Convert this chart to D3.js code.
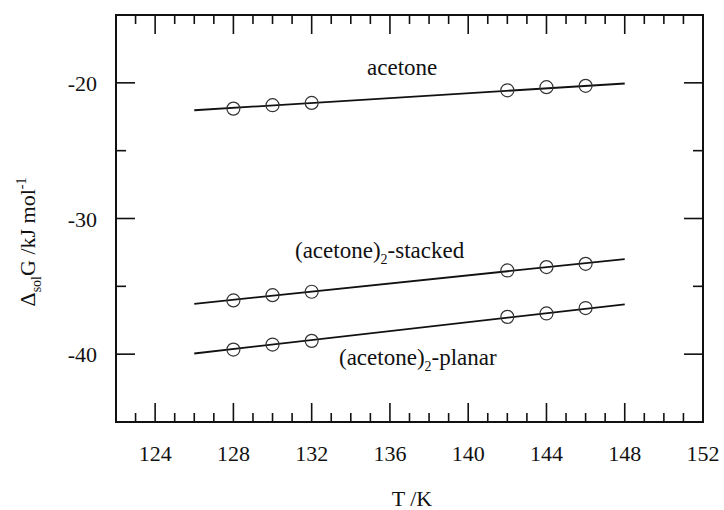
<!DOCTYPE html>
<html>
<head>
<meta charset="utf-8">
<script src="https://cdn.jsdelivr.net/npm/d3@7"></script>
<style>
  html, body { margin: 0; padding: 0; background: #fff; }
</style>
</head>
<body>
<svg id="chart" width="724" height="510"></svg>
<script>
// Temperatures (K) of the computed points
const temps = [128, 130, 132, 142, 144, 146];
// Solvation free energies (kJ/mol)
const acetone = [-21.90, -21.65, -21.48, -20.55, -20.32, -20.22];
const stacked = [-36.04, -35.65, -35.40, -33.83, -33.58, -33.34];
const planar  = [-39.66, -39.29, -39.02, -37.25, -37.00, -36.60];
// Linear fit lines, evaluated at the ends of the fitted range
const fitT = [126, 148];
const acetoneFit = [-22.02, -20.05];
const stackedFit = [-36.29, -32.99];
const planarFit  = [-39.95, -36.33];
// Axis ticks
const xMajor = [124, 128, 132, 136, 140, 144, 148];
const yMajor = [-20, -30, -40];

const FONT = "'Liberation Serif', 'DejaVu Serif', 'Noto Serif', serif";
const svg = d3.select("#chart");
const plotL = 116, plotR = 703, plotT = 15, plotB = 422;

const x = d3.scaleLinear().domain([122, 152]).range([plotL, plotR]);
const y = d3.scaleLinear().domain([-45, -15]).range([plotB, plotT]);

const xMinor = d3.range(123, 152, 1).filter(v => !xMajor.includes(v));
const yMinor = [-25, -35];

const ink = "#111";

function label(sel) {
  return sel.style("font-family", FONT).attr("fill", ink);
}

// Inward-pointing ticks on all four sides
const tickG = svg.append("g").attr("stroke", ink).attr("stroke-width", 1.6);
function xTicks(vals, len) {
  vals.forEach(v => {
    tickG.append("line").attr("x1", x(v)).attr("x2", x(v)).attr("y1", plotB).attr("y2", plotB - len);
    tickG.append("line").attr("x1", x(v)).attr("x2", x(v)).attr("y1", plotT).attr("y2", plotT + len);
  });
}
function yTicks(vals, len) {
  vals.forEach(v => {
    tickG.append("line").attr("y1", y(v)).attr("y2", y(v)).attr("x1", plotL).attr("x2", plotL + len);
    tickG.append("line").attr("y1", y(v)).attr("y2", y(v)).attr("x1", plotR).attr("x2", plotR - len);
  });
}
xTicks(xMajor, 19);
xTicks(xMinor, 9);
yTicks(yMajor, 19);
yTicks(yMinor, 10);

// Frame
svg.append("rect")
  .attr("x", plotL).attr("y", plotT)
  .attr("width", plotR - plotL).attr("height", plotB - plotT)
  .attr("fill", "none").attr("stroke", ink).attr("stroke-width", 2);

// Tick labels
label(svg.append("g").selectAll("text").data(xMajor.concat([152])).join("text"))
  .attr("x", d => x(d)).attr("y", 461)
  .attr("text-anchor", "middle").attr("font-size", 22)
  .text(d => d);
label(svg.append("g").selectAll("text").data(yMajor).join("text"))
  .attr("x", 97).attr("y", d => y(d) + 8)
  .attr("text-anchor", "end").attr("font-size", 22)
  .text(d => d);

// Axis titles
label(svg.append("text")).attr("x", 412).attr("y", 506)
  .attr("text-anchor", "middle").attr("font-size", 22)
  .text("T /K");

const yt = label(svg.append("text"))
  .attr("transform", "translate(35,242) rotate(-90)")
  .attr("text-anchor", "middle").attr("font-size", 22);
yt.append("tspan").text("\u0394");
yt.append("tspan").attr("font-size", 14).attr("dy", 6).text("sol");
yt.append("tspan").attr("dy", -6).text("G /kJ mol");
yt.append("tspan").attr("font-size", 14).attr("dy", -9).text("-1");

// Fit lines and data circles
const series = [
  { vals: acetone, fit: acetoneFit },
  { vals: stacked, fit: stackedFit },
  { vals: planar,  fit: planarFit }
];
const line = d3.line().x(d => x(d[0])).y(d => y(d[1]));
series.forEach(s => {
  svg.append("path")
    .attr("d", line(fitT.map((t, i) => [t, s.fit[i]])))
    .attr("fill", "none").attr("stroke", ink).attr("stroke-width", 1.8);
  svg.append("g").selectAll("circle").data(temps).join("circle")
    .attr("cx", d => x(d))
    .attr("cy", (d, i) => y(s.vals[i]))
    .attr("r", 6.5)
    .attr("fill", "none").attr("stroke", "#333").attr("stroke-width", 1.2);
});

// Series annotations
label(svg.append("text")).attr("x", 367).attr("y", 75).attr("font-size", 23).text("acetone");

function dimerLabel(xp, yp, suffix) {
  const t = label(svg.append("text")).attr("x", xp).attr("y", yp).attr("font-size", 23);
  t.append("tspan").text("(acetone)");
  t.append("tspan").attr("font-size", 14).attr("dy", 6).text("2");
  t.append("tspan").attr("dy", -6).text(suffix);
}
dimerLabel(295, 258, "-stacked");
dimerLabel(339, 365, "-planar");
</script>
</body>
</html>
